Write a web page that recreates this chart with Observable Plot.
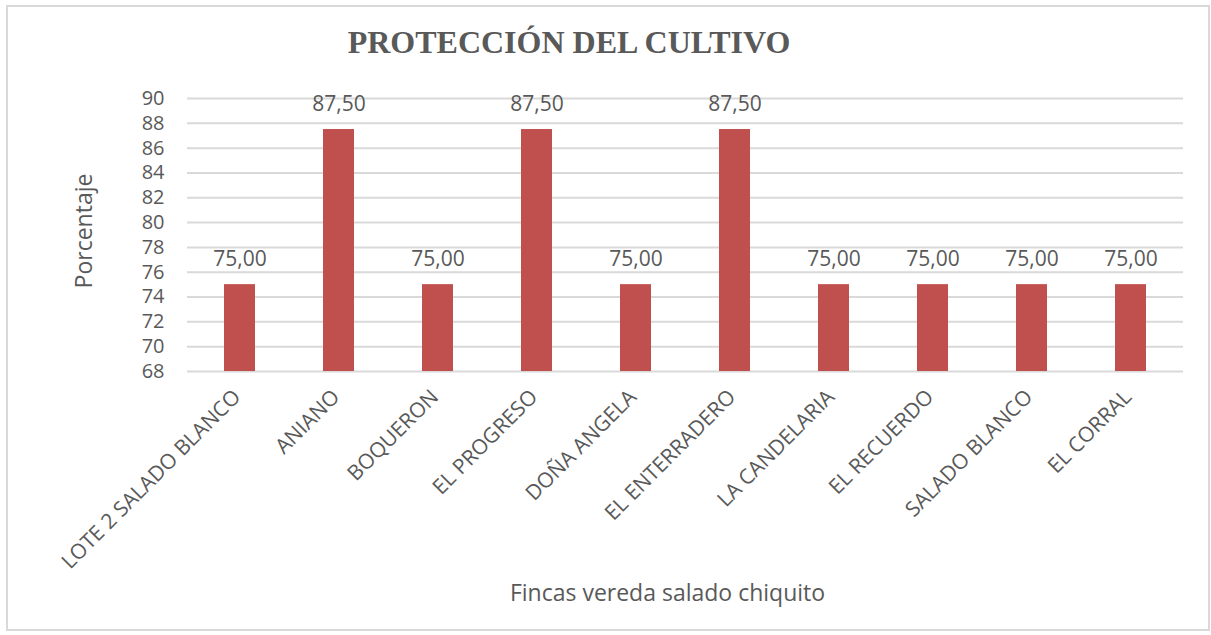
<!DOCTYPE html>
<html>
<head>
<meta charset="utf-8">
<script src="https://cdn.jsdelivr.net/npm/d3@7"></script>
<script src="https://cdn.jsdelivr.net/npm/@observablehq/plot@0.6"></script>
<style>
  html, body { margin: 0; padding: 0; background: #fff; }
  #wrap { position: relative; width: 1211px; height: 635px; overflow: hidden; }
  #frame { position: absolute; left: 6px; top: 5px; width: 1204px; height: 626px; border: 2px solid #d9d9d9; box-sizing: border-box; }
  #title { position: absolute; left: 0; top: 22px; width: 1138px; text-align: center; font-family: "Liberation Serif", "Times New Roman", serif; font-weight: bold; font-size: 32px; line-height: 40px; color: #595959; }
  #chart { position: absolute; left: 0; top: 0; }
</style>
</head>
<body>
<div id="wrap">
  <div id="frame"></div>
  <div id="chart"></div>
  <div id="title">PROTECCIÓN DEL CULTIVO</div>
</div>
<script>
const categories = ["LOTE 2 SALADO BLANCO", "ANIANO", "BOQUERON", "EL PROGRESO", "DOÑA ANGELA", "EL ENTERRADERO", "LA CANDELARIA", "EL RECUERDO", "SALADO BLANCO", "EL CORRAL"];
const values = [75.00, 87.50, 75.00, 87.50, 75.00, 87.50, 75.00, 75.00, 75.00, 75.00];
const yTicks = [68, 70, 72, 74, 76, 78, 80, 82, 84, 86, 88, 90];
const xTitle = "Fincas vereda salado chiquito";
const yTitle = "Porcentaje";

const data = categories.map((c, i) => ({finca: c, valor: values[i]}));
const fmt = v => v.toFixed(2).replace(".", ",");

const chart = Plot.plot({
  width: 1211,
  height: 635,
  marginTop: 98,
  marginBottom: 264,
  marginLeft: 187,
  marginRight: 28,
  style: {fontFamily: "'Open Sans', sans-serif", color: "#595959", background: "transparent"},
  x: {domain: categories, paddingInner: 0.69, paddingOuter: 0.345},
  y: {domain: [68, 90]},
  marks: [
    Plot.gridY(yTicks, {stroke: "#d9d9d9", strokeOpacity: 1, strokeWidth: 2}),
    Plot.barY(data, {x: "finca", y1: 68, y2: "valor", fill: "#C0504D"}),
    Plot.text(data, {x: "finca", y: "valor", text: d => fmt(d.valor), dy: -25, fontSize: 21, fill: "#595959", lineAnchor: "middle"}),
    Plot.axisY({ticks: yTicks, tickSize: 0, tickPadding: 23, fontSize: 20, label: null, tickFormat: d => String(d)}),
    Plot.axisX({tickRotate: -45, tickSize: 0, tickPadding: 22, dx: -3, fontSize: 21, label: null}),
    Plot.text([xTitle], {frameAnchor: "bottom", dy: 222, dx: -18, fontSize: 23, fill: "#595959", lineAnchor: "middle", textAnchor: "middle"}),
    Plot.text([yTitle], {frameAnchor: "left", rotate: -90, dx: -103, dy: -4, fontSize: 23, fill: "#595959", lineAnchor: "middle", textAnchor: "middle"})
  ]
});
document.getElementById("chart").appendChild(chart);
</script>
</body>
</html>
